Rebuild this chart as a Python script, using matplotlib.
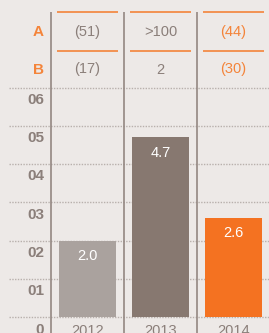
import matplotlib.pyplot as plt

# data
years = ['2012', '2013', '2014']
values = [2.0, 4.7, 2.6]
row_a = ['(51)', '>100', '(44)']
row_b = ['(17)', '2', '(30)']
y_ticks = [0, 1, 2, 3, 4, 5, 6]
y_tick_labels = ['0', '01', '02', '03', '04', '05', '06']

# colours
bg = '#ede9e7'
gray_txt = '#8b7f7a'
orange = '#f47221'
orange_txt = '#f4843a'
bar_colors = ['#aaa29e', '#877870', '#f47221']
table_colors = [gray_txt, gray_txt, orange_txt]

plt.rcParams['font.family'] = ['Liberation Sans', 'DejaVu Sans']

fig = plt.figure(figsize=(2.69, 3.33), dpi=100, facecolor=bg)
ax = fig.add_axes([0, 0, 1, 1])
ax.set_facecolor(bg)

px_x = 73.0   # pixels per column
px_y = 38.3   # pixels per unit
ax.set_xlim(-0.5 - 51 / px_x, -0.5 + 218 / px_x)
ax.set_ylim(-15.7 / px_y, 317.3 / px_y)
ax.axis('off')

x = list(range(len(years)))

# dotted grid lines + y labels
x0 = -0.5 - 42.5 / px_x
for t, lab in zip(y_ticks, y_tick_labels):
    ax.plot([x0, 3], [t, t], color='#b8b0ac', lw=1.0,
            linestyle=(0, (1, 1)), zorder=1)
    ax.text(-0.5 - 7 / px_x, t - 0.32, lab,
            ha='right', va='center', fontsize=11, fontweight='bold',
            color=gray_txt)

# vertical separators
top = 305.3 / px_y
ax.vlines([-0.5, 0.5, 1.5], -1, top, color='#938782', lw=1.2, zorder=2)

# bars
ax.bar(x, values, width=0.79, color=bar_colors, zorder=3)
for xi, v in zip(x, values):
    ax.text(xi, v - 0.41, f'{v:.1f}', ha='center', va='center',
            fontsize=10.5, color='white', zorder=4)

# table on top
ya = 285.6 / px_y
yb = 247.8 / px_y
for xi in x:
    for yl in (top, 266.8 / px_y):
        ax.plot([xi - 0.42, xi + 0.42], [yl, yl], color=orange_txt,
                lw=1.2, solid_capstyle='butt', zorder=2)
    ax.text(xi, ya, row_a[xi], ha='center', va='center', fontsize=10.5,
            color=table_colors[xi])
    ax.text(xi, yb, row_b[xi], ha='center', va='center', fontsize=10.5,
            color=table_colors[xi])
ax.text(-0.5 - 7 / px_x, ya, 'A', ha='right', va='center', fontsize=11,
        fontweight='bold', color=orange_txt)
ax.text(-0.5 - 7 / px_x, yb, 'B', ha='right', va='center', fontsize=11,
        fontweight='bold', color=orange_txt)

# year labels
for xi, yr in zip(x, years):
    ax.text(xi, -0.36, yr, ha='center', va='center', fontsize=10.5,
            color=gray_txt)

fig.savefig('out.png', dpi=100, facecolor=bg)
